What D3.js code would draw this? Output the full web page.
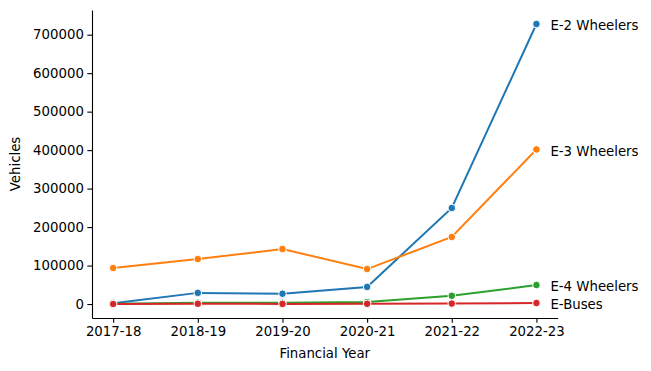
<!DOCTYPE html>
<html>
<head>
<meta charset="utf-8">
<script src="https://cdn.jsdelivr.net/npm/d3@7"></script>
<style>
  body { margin: 0; background: #fff; }
  text { font-family: "DejaVu Sans", sans-serif; fill: #000; }
</style>
</head>
<body>
<script>
// chart data
var years = ["2017-18", "2018-19", "2019-20", "2020-21", "2021-22", "2022-23"];
var seriesNames = ["E-2 Wheelers", "E-3 Wheelers", "E-4 Wheelers", "E-Buses"];
var e2w = [1900, 29000, 26800, 44500, 249600, 727800];
var e3w = [93600, 116900, 143000, 90900, 174300, 401800];
var e4w = [1000, 3500, 3400, 5000, 21500, 49400];
var ebus = [100, 600, 400, 700, 1200, 2600];
var yTicks = [0, 100000, 200000, 300000, 400000, 500000, 600000, 700000];
var colors = ["#1f77b4", "#ff7f0e", "#2ca02c", "#d62728"];

// spacing (note: "top" is taken by window, so prefixed names)
var width = 651, height = 371;
var plotLeft = 92, plotRight = 557.6, plotTop = 10, plotBottom = 318;

var svg = d3.select("body").append("svg")
    .attr("width", width)
    .attr("height", height);

var allSeries = [e2w, e3w, e4w, ebus];

// matplotlib style 5% padding
var ymin = d3.min(allSeries, function(s) { return d3.min(s); });
var ymax = d3.max(allSeries, function(s) { return d3.max(s); });
var pad = (ymax - ymin) * 0.05;

var x = d3.scaleLinear().domain([-0.25, years.length - 0.75]).range([plotLeft, plotRight]);
var y = d3.scaleLinear().domain([ymin - pad, ymax + pad]).range([plotBottom, plotTop]);

// axes
var xAxis = svg.append("g")
    .attr("transform", "translate(0," + plotBottom + ")")
    .call(d3.axisBottom(x).tickValues(d3.range(years.length))
        .tickFormat(function(d) { return years[d]; })
        .tickSize(4.67).tickPadding(3.5).tickSizeOuter(0));

var yAxis = svg.append("g")
    .attr("transform", "translate(" + plotLeft + ",0)")
    .call(d3.axisLeft(y).tickValues(yTicks)
        .tickFormat(d3.format("d"))
        .tickSize(4.67).tickPadding(3.5).tickSizeOuter(0));

[xAxis, yAxis].forEach(function(a) {
  a.selectAll("path.domain").attr("stroke", "#000").attr("stroke-width", 1.1);
  a.selectAll(".tick line").attr("stroke", "#000").attr("stroke-width", 1.1);
  a.selectAll(".tick text").style("font-size", "13.3px").style("font-family", "DejaVu Sans, sans-serif").attr("fill", "#000");
});

// axis titles
svg.append("text")
    .attr("x", (plotLeft + plotRight) / 2)
    .attr("y", 358)
    .attr("text-anchor", "middle")
    .style("font-size", "13.3px")
    .text("Financial Year");

svg.append("text")
    .attr("transform", "translate(20," + (plotTop + plotBottom) / 2 + ") rotate(-90)")
    .attr("text-anchor", "middle")
    .style("font-size", "13.3px")
    .text("Vehicles");

var line = d3.line()
    .x(function(d, i) { return x(i); })
    .y(function(d) { return y(d); });

var plot = svg.append("g");

allSeries.forEach(function(s, k) {
  plot.append("path")
      .datum(s)
      .attr("d", line)
      .attr("fill", "none")
      .attr("stroke", colors[k])
      .attr("stroke-width", 2);

  plot.selectAll(null)
      .data(s)
      .enter()
      .append("circle")
      .attr("cx", function(d, i) { return x(i); })
      .attr("cy", function(d) { return y(d); })
      .attr("r", 3.8)
      .attr("fill", colors[k])
      .attr("stroke", "#fff")
      .attr("stroke-width", 1);

  // label at the end of each line, sits a hair below the marker
  var last = s[s.length - 1];
  svg.append("text")
      .attr("x", x(s.length - 1) + 14)
      .attr("y", y(last) + 1.5)
      .attr("dy", "0.35em")
      .style("font-size", "13.3px")
      .text(seriesNames[k]);
});
</script>
</body>
</html>
